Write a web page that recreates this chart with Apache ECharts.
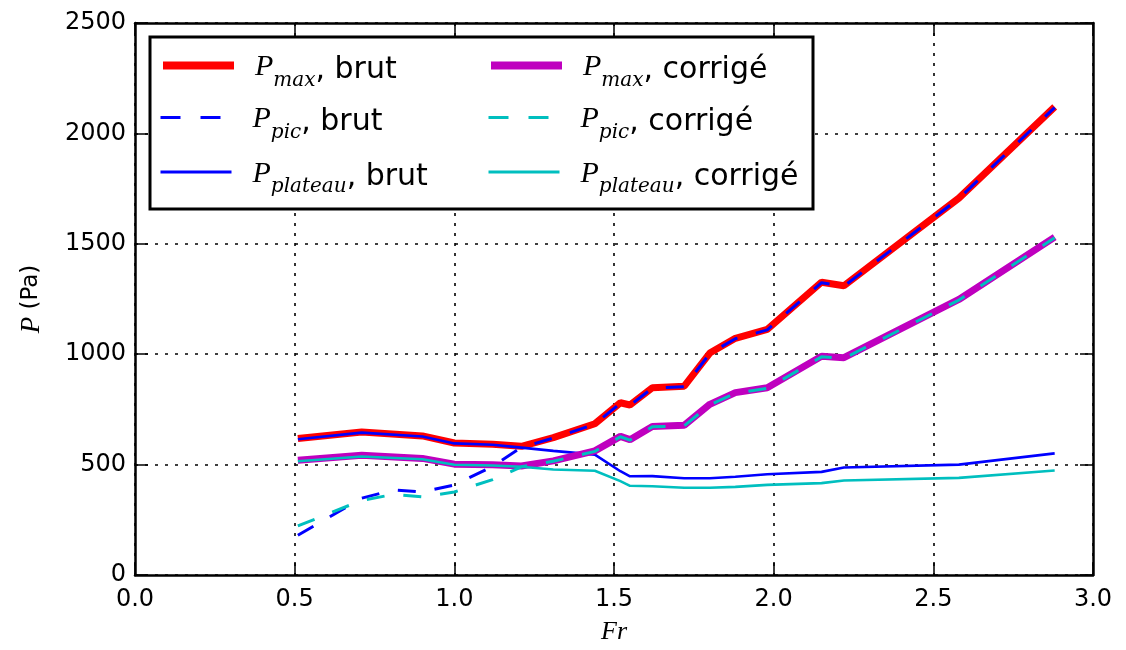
<!DOCTYPE html>
<html>
<head>
<meta charset="utf-8">
<script src="https://cdn.jsdelivr.net/npm/echarts@6/dist/echarts.min.js"></script>
<style>
html,body{margin:0;padding:0;background:#fff;}
#chart{width:1126px;height:650px;}
</style>
</head>
<body>
<div id="chart"></div>
<script>
// ---- data ----
var frMain = [0.51, 0.71, 0.90, 1.00, 1.12, 1.21, 1.31, 1.44, 1.52, 1.55, 1.62, 1.72, 1.80, 1.88, 1.98, 2.15, 2.22, 2.58, 2.88];
var pmaxBrut = [618, 648, 630, 598, 592, 583, 622, 685, 780, 770, 848, 855, 1005, 1072, 1112, 1326, 1310, 1707, 2120];
var pplateauBrut = [615, 645, 627, 596, 590, 577, 562, 545, 470, 447, 448, 438, 438, 445, 456, 467, 487, 500, 551];
var pmaxCorr = [520, 542, 528, 502, 499, 494, 517, 562, 628, 613, 673, 678, 773, 826, 848, 991, 984, 1248, 1530];
var pplateauCorr = [515, 537, 524, 499, 496, 490, 478, 472, 425, 404, 402, 395, 395, 399, 408, 416, 428, 440, 473];

var frPic = [0.51, 0.71, 0.81, 0.90, 1.00, 1.12, 1.21, 1.31, 1.44, 1.52, 1.55, 1.62, 1.72, 1.80, 1.88, 1.98, 2.15, 2.22, 2.58, 2.88];
var ppicBrut = [180, 348, 385, 376, 408, 492, 578, 620, 683, 778, 768, 846, 853, 1003, 1070, 1110, 1324, 1308, 1705, 2117];
var ppicCorr = [222, 338, 365, 354, 376, 432, 490, 515, 560, 626, 611, 671, 676, 770, 823, 845, 988, 981, 1245, 1527];

var xTicks = [0.0, 0.5, 1.0, 1.5, 2.0, 2.5, 3.0];
var yTicks = [0, 500, 1000, 1500, 2000, 2500];

var seriesNames = ['Pmax, brut', 'Ppic, brut', 'Pplateau, brut', 'Pmax, corrigé', 'Ppic, corrigé', 'Pplateau, corrigé'];
var legendSub = {'Pmax, brut':'max','Ppic, brut':'pic','Pplateau, brut':'plateau','Pmax, corrigé':'max','Ppic, corrigé':'pic','Pplateau, corrigé':'plateau'};
var legendTail = {'Pmax, brut':', brut','Ppic, brut':', brut','Pplateau, brut':', brut','Pmax, corrigé':', corrigé','Ppic, corrigé':', corrigé','Pplateau, corrigé':', corrigé'};

function zip(xs, ys){ return xs.map(function(x,i){ return [x, ys[i]]; }); }

var RED='#ff0000', BLUE='#0000ff', MAG='#bf00bf', CYAN='#00bfbf';
var DASH=[18,19];

var chart = echarts.init(document.getElementById('chart'), null, {renderer:'canvas'});

var axisLineStyle = {color:'#000', width:2.5};
var tickStyle = {color:'#000', width:1.5};
var gridStyle = {color:'#000', width:1.6, type:[3,7]};

function legendAt(name, left, top, color, width, type){
  return {
    show:true, data:[name], left:left, top:top, orient:'horizontal',
    itemWidth:71, itemHeight:14, padding:0, z:20,
    itemStyle:{opacity:0, borderWidth:0},
    lineStyle:{color:color, width:width, type:type, opacity:1},
    formatter:function(n){ return '{p|P}{s|' + legendSub[n] + '}{t|' + legendTail[n] + '}'; },
    textStyle:{
      rich:{
        p:{fontFamily:'Liberation Serif', fontStyle:'italic', fontSize:30, lineHeight:34, verticalAlign:'top', padding:[4,0,0,16], color:'#000'},
        s:{fontFamily:'DejaVu Serif', fontStyle:'italic', fontSize:20, lineHeight:20, verticalAlign:'top', padding:[22,0,0,0], color:'#000'},
        t:{fontFamily:'DejaVu Sans', fontSize:30, lineHeight:34, verticalAlign:'top', padding:[7,0,0,0], color:'#000'}
      }
    }
  };
}

var option = {
  animation:false,
  backgroundColor:'#fff',
  grid:{left:135, right:33, top:23, bottom:74, containLabel:false},
  graphic:[{
    type:'rect', z:15, zlevel:0,
    shape:{x:150, y:37, width:663, height:172},
    style:{fill:'#fff', stroke:'#000', lineWidth:3}
  }],
  legend:[
    legendAt(seriesNames[0], 159, 48.5, RED, 8, 'solid'),
    legendAt(seriesNames[1], 159, 100.5, BLUE, 3, [20,20]),
    legendAt(seriesNames[2], 159, 155, BLUE, 3, 'solid'),
    legendAt(seriesNames[3], 487, 48.5, MAG, 8, 'solid'),
    legendAt(seriesNames[4], 487, 100.5, CYAN, 3, [20,20]),
    legendAt(seriesNames[5], 487, 155, CYAN, 3, 'solid')
  ],
  xAxis:[{
    type:'value', min:0, max:3, interval:0.5, position:'bottom',
    name:'{i|Fr}', nameLocation:'middle', nameGap:44,
    nameTextStyle:{rich:{i:{fontFamily:'Liberation Serif', fontStyle:'italic', fontSize:26, color:'#000'}}},
    axisLine:{show:true, onZero:false, lineStyle:axisLineStyle},
    axisTick:{show:true, inside:true, length:13, lineStyle:tickStyle},
    axisLabel:{show:true, margin:13, color:'#000', fontFamily:'DejaVu Sans', fontSize:24,
      formatter:function(v){ return v.toFixed(1); }},
    splitLine:{show:true, lineStyle:gridStyle}
  },{
    type:'value', min:0, max:3, interval:0.5, position:'top',
    axisLine:{show:true, onZero:false, lineStyle:axisLineStyle},
    axisTick:{show:true, inside:true, length:13, lineStyle:tickStyle},
    axisLabel:{show:false}, splitLine:{show:false}
  }],
  yAxis:[{
    type:'value', min:0, max:2500, interval:500, position:'left',
    name:'{i|P} (Pa)', nameLocation:'middle', nameGap:90,
    nameTextStyle:{fontFamily:'DejaVu Sans', fontSize:23, color:'#000',
      rich:{i:{fontFamily:'Liberation Serif', fontStyle:'italic', fontSize:27, color:'#000'}}},
    axisLine:{show:true, onZero:false, lineStyle:axisLineStyle},
    axisTick:{show:true, inside:true, length:13, lineStyle:tickStyle},
    axisLabel:{show:true, margin:9, color:'#000', fontFamily:'DejaVu Sans', fontSize:24,
      formatter:function(v){ return String(v); }},
    splitLine:{show:true, lineStyle:gridStyle}
  },{
    type:'value', min:0, max:2500, interval:500, position:'right',
    axisLine:{show:true, onZero:false, lineStyle:axisLineStyle},
    axisTick:{show:true, inside:true, length:13, lineStyle:tickStyle},
    axisLabel:{show:false}, splitLine:{show:false}
  }],
  series:[
    {name:seriesNames[0], type:'line', data:zip(frMain, pmaxBrut), showSymbol:false, symbol:'none', z:2,
      lineStyle:{color:RED, width:7}, itemStyle:{color:RED}},
    {name:seriesNames[1], type:'line', data:zip(frPic, ppicBrut), showSymbol:false, symbol:'none', z:3,
      lineStyle:{color:BLUE, width:3, type:DASH}, itemStyle:{color:BLUE}},
    {name:seriesNames[2], type:'line', data:zip(frMain, pplateauBrut), showSymbol:false, symbol:'none', z:3,
      lineStyle:{color:BLUE, width:2.6}, itemStyle:{color:BLUE}},
    {name:seriesNames[3], type:'line', data:zip(frMain, pmaxCorr), showSymbol:false, symbol:'none', z:4,
      lineStyle:{color:MAG, width:7}, itemStyle:{color:MAG}},
    {name:seriesNames[4], type:'line', data:zip(frPic, ppicCorr), showSymbol:false, symbol:'none', z:5,
      lineStyle:{color:CYAN, width:3, type:DASH}, itemStyle:{color:CYAN}},
    {name:seriesNames[5], type:'line', data:zip(frMain, pplateauCorr), showSymbol:false, symbol:'none', z:5,
      lineStyle:{color:CYAN, width:2.6}, itemStyle:{color:CYAN}}
  ]
};
chart.setOption(option);
</script>
</body>
</html>
